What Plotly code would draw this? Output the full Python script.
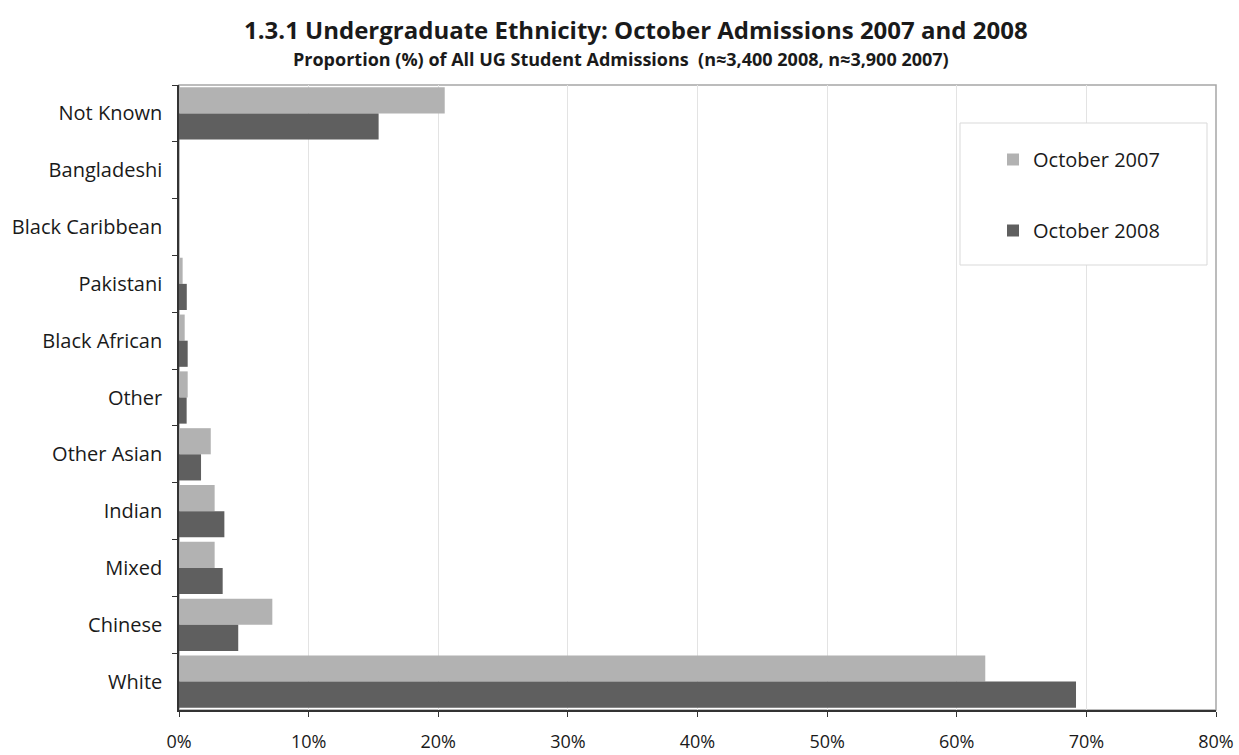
import plotly.graph_objects as go

categories = ["Not Known", "Bangladeshi", "Black Caribbean", "Pakistani", "Black African",
              "Other", "Other Asian", "Indian", "Mixed", "Chinese", "White"]
oct_2007 = [20.5, 0.0, 0.0, 0.28, 0.44, 0.67, 2.45, 2.75, 2.75, 7.2, 62.2]
oct_2008 = [15.4, 0.0, 0.0, 0.6, 0.67, 0.59, 1.7, 3.5, 3.37, 4.57, 69.2]
x_ticks = [0, 10, 20, 30, 40, 50, 60, 70, 80]
x_tick_labels = [f"{v}%" for v in x_ticks]

FONT = "Open Sans, Lato, sans-serif"
W, H = 1239, 755
L, R, T, B = 179, 23, 85, 45
pw, ph = W - L - R, H - T - B

def px_x(x):
    return (x - L) / pw

def px_y(y):
    return (H - B - y) / ph

fig = go.Figure()
fig.add_trace(go.Bar(y=categories, x=oct_2007, orientation="h", name="October 2007",
                     marker=dict(color="#b2b2b2", line=dict(width=0)), legendgroup="a"))
fig.add_trace(go.Bar(y=categories, x=oct_2008, orientation="h", name="October 2008",
                     marker=dict(color="#5f5f5f", line=dict(width=0)), legendgroup="b"))

fig.update_layout(
    width=W, height=H,
    margin=dict(l=L, r=R, t=T, b=B, autoexpand=False),
    paper_bgcolor="white", plot_bgcolor="white",
    barmode="group", bargap=0.08, bargroupgap=0,
    font=dict(family=FONT, size=18, color="#1a1a1a"),
    showlegend=True,
    legend=dict(x=px_x(993), y=px_y(140), xanchor="left", yanchor="top",
                bgcolor="rgba(0,0,0,0)", borderwidth=0, tracegroupgap=42,
                font=dict(size=20, family=FONT, color="#1a1a1a")),
    xaxis=dict(range=[0, 80], tickvals=x_ticks, ticktext=x_tick_labels,
               showgrid=True, gridcolor="#e3e3e3", gridwidth=1,
               showline=True, linecolor="#333333", linewidth=1.5,
               ticks="outside", ticklen=5, tickcolor="#333333", automargin=False,
               zeroline=False, tickfont=dict(size=18), ticklabelstandoff=10),
    yaxis=dict(autorange="reversed", showline=True, linecolor="#333333", linewidth=1.5,
               ticks="outside", ticklen=5, tickcolor="#333333", tickson="boundaries",
               automargin=False,
               showgrid=False, tickfont=dict(size=20), ticklabelstandoff=11),
)

# plot area border (top/right)
fig.add_shape(type="rect", xref="paper", yref="paper", x0=0, x1=1, y0=0, y1=1,
              line=dict(color="#a6a6a6", width=1.5), layer="below")
# legend box
fig.add_shape(type="rect", xref="paper", yref="paper",
              x0=px_x(960), x1=px_x(1207), y0=px_y(265), y1=px_y(123),
              line=dict(color="#d9d9d9", width=1), fillcolor="white", layer="above",
              opacity=1)

fig.add_annotation(text="<b>1.3.1 Undergraduate Ethnicity: October Admissions 2007 and 2008</b>",
                   xref="paper", yref="paper", x=px_x(636), y=px_y(30),
                   xanchor="center", yanchor="middle", showarrow=False,
                   font=dict(size=24, family=FONT, color="#1a1a1a"))
fig.add_annotation(text="<b>Proportion (%) of All UG Student Admissions  (n≈3,400 2008, n≈3,900 2007)</b>",
                   xref="paper", yref="paper", x=px_x(621), y=px_y(59),
                   xanchor="center", yanchor="middle", showarrow=False,
                   font=dict(size=18, family=FONT, color="#1a1a1a"))

fig.write_html("out.html")
